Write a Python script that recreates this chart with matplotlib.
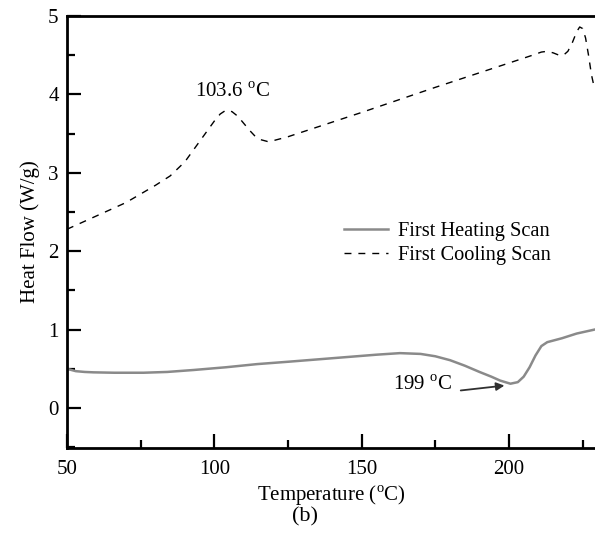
import matplotlib
matplotlib.use("Agg")
import matplotlib.pyplot as plt
from matplotlib.ticker import MultipleLocator

plt.rcParams['font.family'] = ['Liberation Serif', 'DejaVu Serif']
plt.rcParams['mathtext.fontset'] = 'custom'
plt.rcParams['mathtext.rm'] = 'Liberation Serif'

# Cooling scan (dashed)
cool_T = [50, 60, 70, 80, 85, 90, 95, 100, 102, 104, 106, 108, 110, 112, 114, 116, 118, 120, 125, 150, 175, 200, 208, 211, 213, 215, 217, 218.5, 220, 221.5, 223, 224, 225, 226, 227, 228, 229]
cool_H = [2.28, 2.45, 2.62, 2.84, 2.96, 3.14, 3.40, 3.66, 3.75, 3.80, 3.78, 3.72, 3.63, 3.54, 3.46, 3.42, 3.40, 3.41, 3.46, 3.77, 4.09, 4.40, 4.50, 4.54, 4.55, 4.53, 4.50, 4.50, 4.55, 4.66, 4.80, 4.86, 4.84, 4.72, 4.50, 4.25, 4.08]

# Heating scan (solid grey)
heat_T = [50, 51, 53, 56, 59, 66, 76, 84, 93, 104, 114.5, 125, 135, 145, 155, 163, 170, 175, 180, 185, 190, 194, 197, 200.5, 203, 205, 207, 209, 211, 213, 215, 218, 223, 229]
heat_H = [0.50, 0.49, 0.47, 0.46, 0.455, 0.45, 0.45, 0.46, 0.485, 0.52, 0.56, 0.59, 0.62, 0.65, 0.68, 0.70, 0.69, 0.66, 0.61, 0.54, 0.46, 0.40, 0.35, 0.31, 0.33, 0.40, 0.52, 0.67, 0.79, 0.84, 0.86, 0.89, 0.95, 1.00]

fig = plt.figure(figsize=(5.95, 5.36), dpi=100)
ax = fig.add_axes([67/595, 1-448/536, 1-67/595, (448-16)/536])

ax.plot(heat_T, heat_H, color='#8a8a8a', lw=1.8, label='First Heating Scan', solid_joinstyle='round')
ax.plot(cool_T, cool_H, color='black', lw=1.0, ls=(0, (5, 5)), label='First Cooling Scan')

ax.set_xlim(50, 229.2)
ax.set_ylim(-0.51, 5)
ax.xaxis.set_major_locator(MultipleLocator(50))
ax.xaxis.set_minor_locator(MultipleLocator(25))
ax.yaxis.set_major_locator(MultipleLocator(1))
ax.yaxis.set_minor_locator(MultipleLocator(0.5))
ax.tick_params(which='both', direction='in', labelsize=15, width=1.6)
ax.tick_params(which='major', length=10)
ax.tick_params(which='minor', length=6)
ax.tick_params(axis='x', pad=9)
ax.tick_params(axis='y', pad=6)
ax.spines['right'].set_visible(False)
for s in ['left', 'bottom', 'top']:
    ax.spines[s].set_linewidth(2.0)

ax.set_xlabel('Temperature ($^{\\mathrm{o}}$C)', fontsize=15, labelpad=3)
ax.set_ylabel('Heat Flow (W/g)', fontsize=15, labelpad=6)

ax.text(93.4, 4.03, '103.6 $^{\\mathrm{o}}$C', fontsize=15, va='center', ha='left')
ax.text(160.7, 0.29, '199 $^{\\mathrm{o}}$C', fontsize=15, va='center', ha='left')
ax.annotate('', xy=(199.4, 0.29), xytext=(182.7, 0.22),
            arrowprops=dict(arrowstyle='-|>', color='#303030', lw=1.3, mutation_scale=12))

leg = ax.legend(loc='upper left', bbox_to_anchor=(0.49, 0.566), frameon=False, fontsize=14.7,
                handlelength=2.15, handletextpad=0.5, labelspacing=0.22)

fig.text(305/595, 1-517/536, '(b)', fontsize=16, ha='center', va='center')

fig.savefig('out.png', dpi=100)
